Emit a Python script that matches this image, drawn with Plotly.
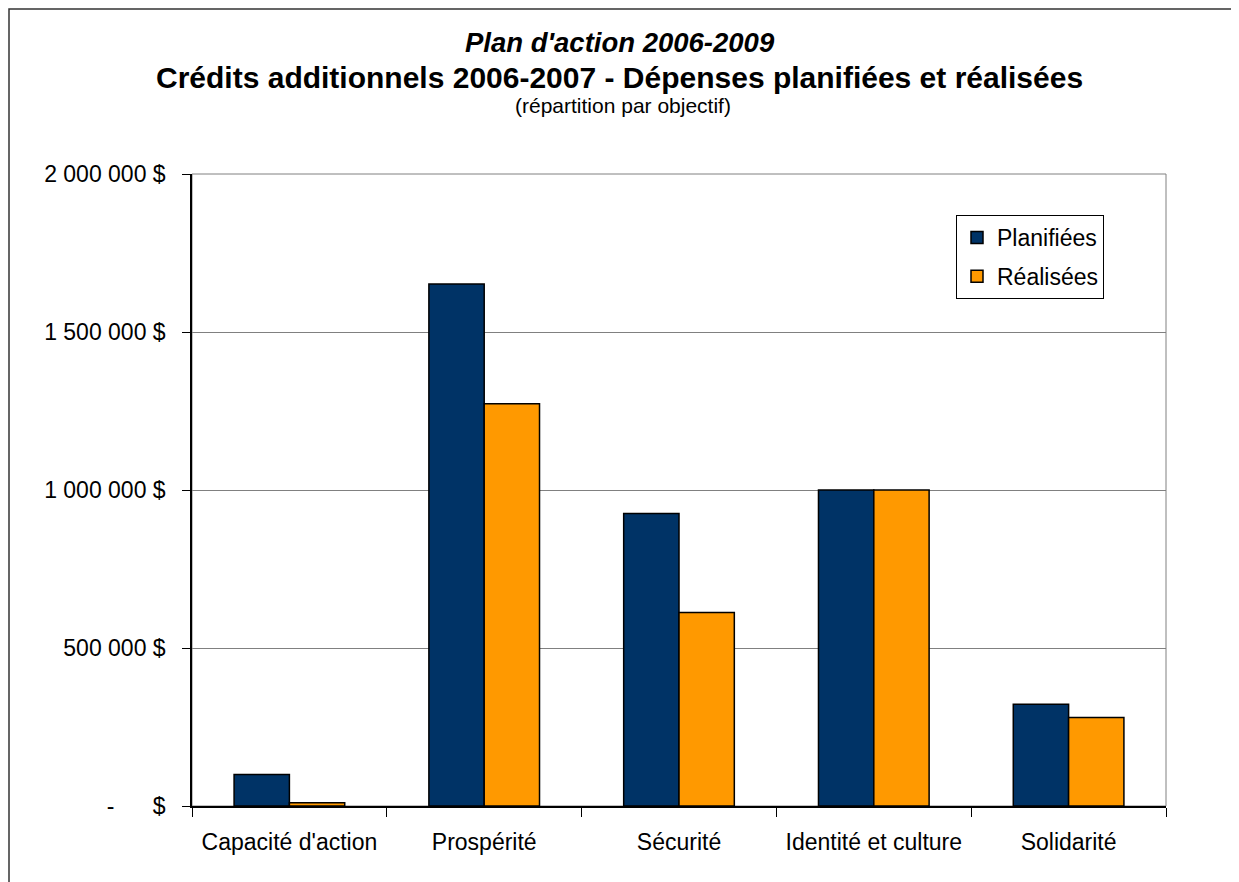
import plotly.graph_objects as go

categories = ["Capacité d'action", "Prospérité", "Sécurité", "Identité et culture", "Solidarité"]
planifiees = [100000, 1652000, 926000, 1000000, 322000]
realisees = [10000, 1273000, 612000, 1000000, 280000]
y_tickvals = [0, 500000, 1000000, 1500000, 2000000]
y_ticktext = ["-\u00a0\u00a0\u00a0\u00a0\u00a0\u00a0$", "500\u00a0000\u00a0$", "1\u00a0000\u00a0000\u00a0$",
              "1\u00a0500\u00a0000\u00a0$", "2\u00a0000\u00a0000\u00a0$"]

FONT = "Liberation Sans, Arial, sans-serif"
OFF = 8  # page body margin
W, H = 1239, 882
PL, PR, PT, PB = 192, 1166, 174, 806  # target plot area in screen pixels
L = PL - OFF
T = PT - OFF
PW, PH = PR - PL, PB - PT
R = W - L - PW
B = H - T - PH


def px(x):
    return (x - PL) / PW


def py(y):
    return (PB - y) / PH


fig = go.Figure()
fig.add_trace(go.Bar(name="Planifiées", x=categories, y=planifiees,
                     marker=dict(color="#003366", line=dict(color="#000000", width=1.5)),
                     legendgroup="a"))
fig.add_trace(go.Bar(name="Réalisées", x=categories, y=realisees,
                     marker=dict(color="#FF9900", line=dict(color="#000000", width=1.5)),
                     legendgroup="b"))

fig.update_layout(
    width=W, height=H,
    margin=dict(l=L, r=R, t=T, b=B, autoexpand=False),
    paper_bgcolor="white", plot_bgcolor="white",
    barmode="group", bargap=0.432, bargroupgap=0,
    font=dict(family=FONT, color="black", size=23),
    legend=dict(x=px(956), y=py(215), xanchor="left", yanchor="top",
                bgcolor="white", bordercolor="#000000", borderwidth=1,
                font=dict(size=23, family=FONT), tracegroupgap=6,
                traceorder="grouped"),
    xaxis=dict(showline=True, linecolor="black", linewidth=1.5,
               ticks="outside", tickson="boundaries", ticklen=9, tickcolor="black",
               tickfont=dict(size=23, family=FONT), ticklabelstandoff=15,
               showgrid=False, zeroline=False),
    yaxis=dict(range=[0, 2000000], tickvals=y_tickvals, ticktext=y_ticktext,
               showline=True, linecolor="black", linewidth=1.5,
               ticks="outside", ticklen=8, tickcolor="black",
               tickfont=dict(size=23, family=FONT), ticklabelstandoff=12,
               showgrid=True, gridcolor="#808080", gridwidth=1, zeroline=False),
    showlegend=True,
)

# plot-area frame (top/right) and outer chart border
fig.add_shape(type="rect", xref="paper", yref="paper", x0=0, x1=1, y0=0, y1=1,
              line=dict(color="#808080", width=1), layer="below")
fig.add_shape(type="rect", xref="paper", yref="paper",
              x0=px(9), x1=px(1400), y0=py(1000), y1=py(9),
              line=dict(color="#333333", width=1.5), layer="below")

cx = px(619.5)
fig.add_annotation(text="<b><i>Plan d'action 2006-2009</i></b>", xref="paper", yref="paper",
                   x=cx, y=py(42), xanchor="center", yanchor="middle", showarrow=False,
                   font=dict(size=27.5, family=FONT))
fig.add_annotation(text="<b>Crédits additionnels 2006-2007 - Dépenses planifiées et réalisées</b>",
                   xref="paper", yref="paper", x=cx, y=py(77), xanchor="center", yanchor="middle",
                   showarrow=False, font=dict(size=30, family=FONT))
fig.add_annotation(text="(répartition par objectif)", xref="paper", yref="paper",
                   x=px(623), y=py(105), xanchor="center", yanchor="middle", showarrow=False,
                   font=dict(size=21, family=FONT))

fig.write_html("out.html")
